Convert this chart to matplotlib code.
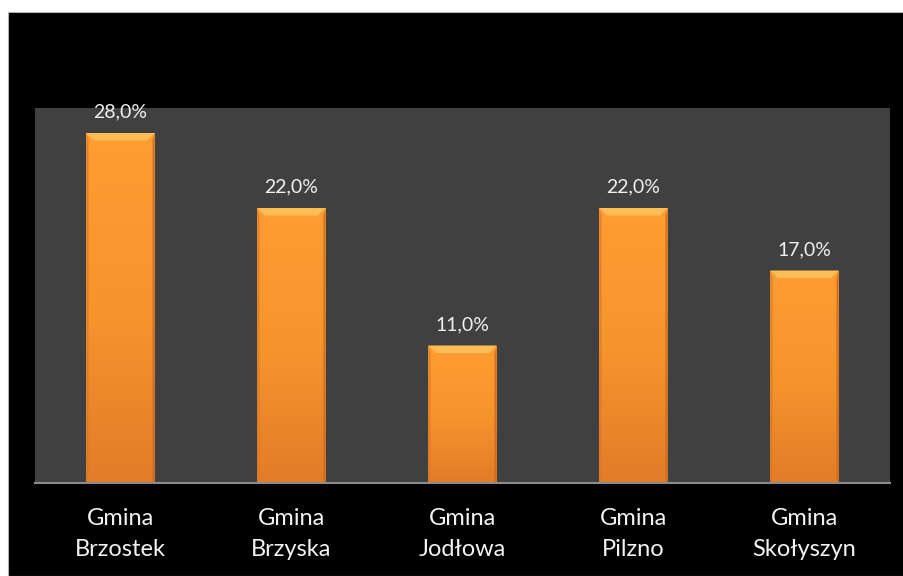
import matplotlib
matplotlib.use("Agg")
import matplotlib.pyplot as plt
import numpy as np
from matplotlib.patches import Rectangle, Polygon
from matplotlib.colors import LinearSegmentedColormap

categories = ["Gmina\nBrzostek", "Gmina\nBrzyska", "Gmina\nJodłowa", "Gmina\nPilzno", "Gmina\nSkołyszyn"]
values = [28.0, 22.0, 11.0, 22.0, 17.0]
value_labels = ["28,0%", "22,0%", "11,0%", "22,0%", "17,0%"]

W, H = 904, 576
fig = plt.figure(figsize=(W / 100, H / 100), dpi=100)
fig.patch.set_facecolor("white")
fig.add_artist(Rectangle((8 / W, 0), 1 - 8 / W, 1 - 12 / H, transform=fig.transFigure,
                         facecolor="black", edgecolor="#b0b0b0", linewidth=0.8, zorder=0))

ax = fig.add_axes([35 / W, (H - 483) / H, (890 - 35) / W, (483 - 108) / H])
ax.set_facecolor("#404040")

x = np.arange(len(categories))
bw = 0.4
bars = ax.bar(x, values, width=bw, color="#F7952D", edgecolor="none", zorder=2)
ax.set_xlim(-0.5, len(categories) - 0.5)
ax.set_ylim(0, 30)

cmap = LinearSegmentedColormap.from_list("o", ["#FF9D33", "#F7952D", "#E27C28"])
grad = np.linspace(0, 1, 256).reshape(-1, 1)
for b, v, lab in zip(bars, values, value_labels):
    x0, w, h = b.get_x(), b.get_width(), b.get_height()
    im = ax.imshow(grad, cmap=cmap, extent=[x0, x0 + w, 0, h], aspect="auto",
                   origin="upper", zorder=2.1)
    im.set_clip_path(b)
    dx = w * 0.11
    dy = 0.6
    ax.add_patch(Polygon([[x0, h], [x0 + w, h], [x0 + w - dx, h - dy], [x0 + dx, h - dy]],
                         closed=True, facecolor="#FFBE55", edgecolor="none", zorder=2.3))
    ax.add_patch(Polygon([[x0, h], [x0 + dx * 0.3, h - dy], [x0 + dx * 0.3, 0], [x0, 0]],
                         closed=True, facecolor="#D9782A", edgecolor="none", alpha=0.7, zorder=2.2))
    ax.add_patch(Polygon([[x0 + w, h], [x0 + w - dx * 0.3, h - dy], [x0 + w - dx * 0.3, 0], [x0 + w, 0]],
                         closed=True, facecolor="#C9691F", edgecolor="none", alpha=0.8, zorder=2.2))
    ax.annotate(lab, (b.get_x() + w / 2, h), xytext=(0, 11), textcoords="offset points",
                ha="center", va="baseline", color="#F0F0F0", fontsize=14, family="Lato")

ax.set_xticks(x)
ax.set_xticklabels(categories, color="#F2F2F2", fontsize=17, family="Lato", linespacing=1.6)
ax.tick_params(axis="x", length=0, pad=18)
ax.set_yticks([])
for s in ["top", "left", "right"]:
    ax.spines[s].set_visible(False)
ax.spines["bottom"].set_color("#8c8c8c")
ax.spines["bottom"].set_linewidth(1.5)
ax.spines["bottom"].set_zorder(3)

fig.savefig("out.png", dpi=100, facecolor=fig.get_facecolor())
